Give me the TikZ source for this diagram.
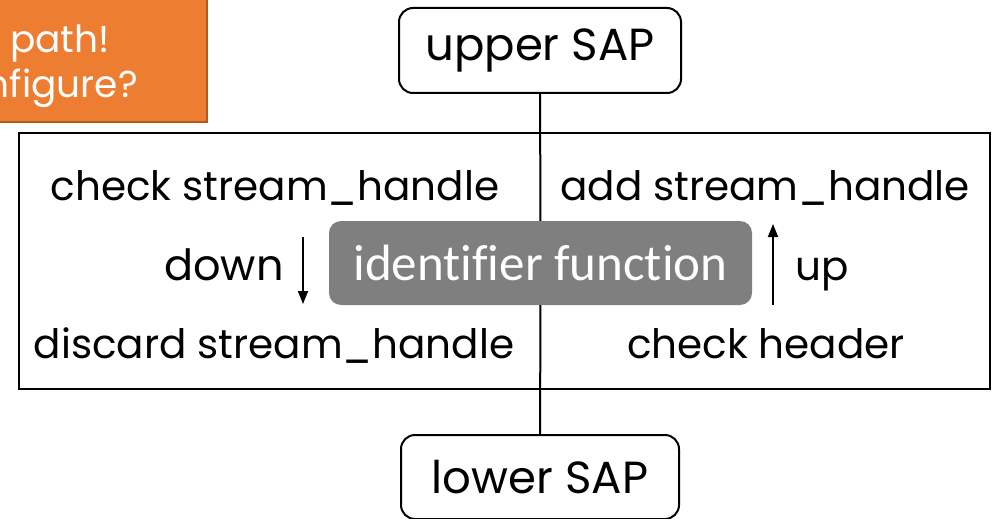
\documentclass[tikz,border=0pt]{standalone}
\usepackage{fontspec}
\setmainfont{Poppins}
\newfontfamily\calib[Ligatures=NoCommon]{Carlito}
\usetikzlibrary{arrows.meta}
\definecolor{orng}{HTML}{ED7D31}
\definecolor{orngdark}{HTML}{B05A1F}
\definecolor{grayfn}{HTML}{7F7F7F}
\begin{document}
\begin{tikzpicture}[x=1pt,y=-1pt,
  sapbox/.style={draw, line width=2pt, rounded corners=14pt, inner sep=0pt,
    font=\fontsize{45}{52}\selectfont},
  lbl/.style={inner sep=0pt, font=\fontsize{40.5}{48}\selectfont, anchor=base},
  warn/.style={inner sep=0pt, font=\fontsize{37.5}{44}\selectfont, text=white, anchor=base east},
  arr/.style={line width=1.8pt, -{Triangle[length=13pt,width=10pt]}},
  conn/.style={line width=2pt}]
\useasboundingbox (0,0) rectangle (999,519);
\clip (0,0) rectangle (999,519);
% warning box (cut off by the frame)
\node[fill=orng, draw=orngdark, line width=2pt, minimum width=360pt, minimum height=140pt] (warnbox) at (27,52) {};
\node[warn] (w1) at (110,53) {New path!};
\node[warn] (w2) at (138,97) {Reconfigure?};
% frame
\node[draw, line width=2pt, minimum width=971pt, minimum height=256pt, inner sep=0pt] (frame) at (504.5,261) {};
% SAPs
\node[sapbox, minimum width=282pt, minimum height=85pt] (upper) at (540,50.5) {upper SAP};
\node[sapbox, minimum width=278pt, minimum height=84pt] (lower) at (540,477) {lower SAP};
% identifier function
\node[fill=grayfn, rounded corners=12pt, minimum width=423pt, minimum height=84pt, inner sep=0pt,
  text=white, font=\calib\fontsize{51}{58}\selectfont] (idf) at (540.5,263) {identifier function};
\draw[conn] (upper) -- (idf);
\draw[conn] (idf) -- (lower);
% labels
\node[lbl] (chk) at (275,200) {check stream\_handle};
\node[lbl] (add) at (765,200) {add stream\_handle};
\node[lbl] (dis) at (274,358) {discard stream\_handle};
\node[lbl] (hdr) at (766,358) {check header};
\node[lbl, font=\fontsize{43}{50}\selectfont] (dn) at (224,280) {down};
\node[lbl] (up) at (822,280) {up};
% arrows
\coordinate (d1) at (303,237);
\coordinate (d2) at (303,304);
\coordinate (u1) at (773,305);
\coordinate (u2) at (773,224);
\draw[arr] (d1) -- (d2);
\draw[arr] (u1) -- (u2);
\end{tikzpicture}
\end{document}
